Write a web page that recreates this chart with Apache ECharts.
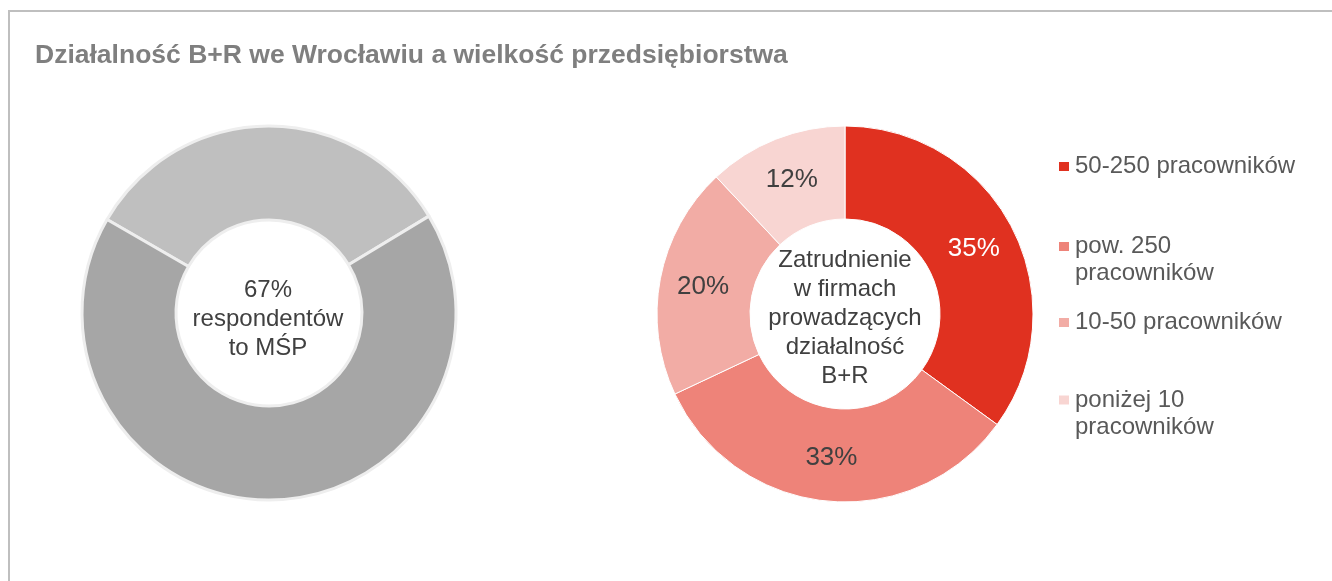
<!DOCTYPE html>
<html>
<head>
<meta charset="utf-8">
<script src="https://cdn.jsdelivr.net/npm/echarts@6/dist/echarts.min.js"></script>
<style>
  html, body { margin: 0; padding: 0; background: #fff; }
  #chart { width: 1332px; height: 581px; }
</style>
</head>
<body>
<div id="chart"></div>
<script>
var FONT = '"Liberation Sans", Arial, sans-serif';

// lewy wykres - respondenci
var smeNames = ['Duże', 'MŚP'];
var smeValues = [33, 67];
var smeColors = ['#bfbfbf', '#a6a6a6'];

// prawy wykres - zatrudnienie
var sizeNames = ['50-250 pracowników', 'pow. 250\npracowników', '10-50 pracowników', 'poniżej 10\npracowników'];
var sizeValues = [35, 33, 20, 12];
var sizeColors = ['#e03120', '#ee8379', '#f2aca5', '#f8d5d2'];
var sizeLabelColors = ['#ffffff', '#404040', '#404040', '#404040'];

var legendTops = [153, 206, 309, 359.5];

var chart = echarts.init(document.getElementById('chart'));

var legends = sizeNames.map(function (name, i) {
  return {
    orient: 'vertical',
    left: 1057,
    top: legendTops[i],
    padding: 0,
    data: [name],
    itemWidth: 12,
    itemHeight: 11,
    itemGap: 0,
    icon: 'rect',
    selectedMode: false,
    // pusta linia na poczatku - znacznik przy pierwszej linii tekstu
    formatter: function (n) { return n.indexOf('\n') >= 0 ? '\n' + n : n; },
    textStyle: {
      fontFamily: FONT,
      fontSize: 24,
      color: '#595959',
      lineHeight: 27
    }
  };
});

var option = {
  backgroundColor: '#fff',
  animation: false,
  textStyle: { fontFamily: FONT },
  title: {
    text: 'Działalność B+R we Wrocławiu a wielkość przedsiębiorstwa',
    left: 30,
    top: 37,
    textStyle: { fontFamily: FONT, fontSize: 26.5, fontWeight: 'bold', color: '#7f7f7f' }
  },
  legend: legends,
  graphic: [
    {
      type: 'rect',
      shape: { x: 9, y: 11, width: 1400, height: 700 },
      style: { fill: null, stroke: '#bfbfbf', lineWidth: 2 },
      silent: true
    },
    {
      type: 'text',
      x: 268, y: 319,
      style: {
        text: '67%\nrespondentów\nto MŚP',
        align: 'center', verticalAlign: 'middle',
        font: '24px ' + FONT, lineHeight: 29, fill: '#404040'
      }
    },
    {
      type: 'text',
      x: 845, y: 318,
      style: {
        text: 'Zatrudnienie\nw firmach\nprowadzących\ndziałalność\nB+R',
        align: 'center', verticalAlign: 'middle',
        font: '24px ' + FONT, lineHeight: 29, fill: '#404040'
      }
    }
  ],
  series: [
    {
      type: 'pie',
      center: [269, 313],
      radius: [93, 187],
      startAngle: 150,
      clockwise: true,
      label: { show: false },
      labelLine: { show: false },
      emphasis: { disabled: true },
      itemStyle: { borderColor: '#eeeeee', borderWidth: 3 },
      data: smeNames.map(function (n, i) {
        return { name: n, value: smeValues[i], itemStyle: { color: smeColors[i] } };
      })
    },
    {
      type: 'pie',
      center: [845, 314],
      radius: [95, 188],
      startAngle: 90,
      clockwise: true,
      emphasis: { disabled: true },
      itemStyle: { borderColor: '#ffffff', borderWidth: 1 },
      label: {
        show: true,
        position: 'inside',
        formatter: '{c}%',
        fontFamily: FONT,
        fontSize: 26
      },
      labelLine: { show: false },
      data: sizeNames.map(function (n, i) {
        return {
          name: n,
          value: sizeValues[i],
          itemStyle: { color: sizeColors[i] },
          label: { color: sizeLabelColors[i] }
        };
      })
    }
  ]
};

chart.setOption(option);
</script>
</body>
</html>
